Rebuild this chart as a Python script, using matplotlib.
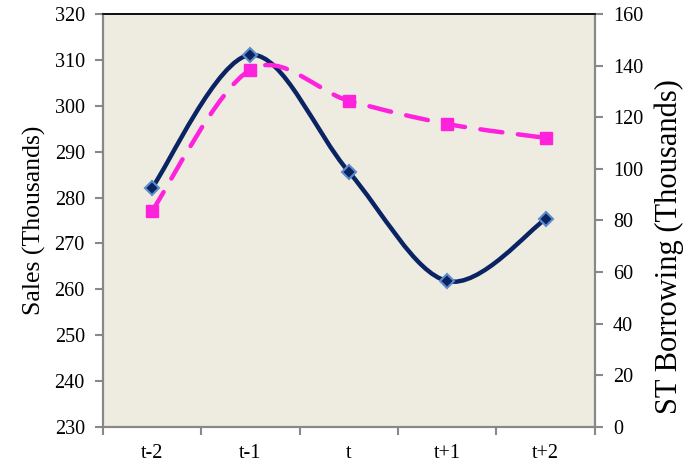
import numpy as np
import matplotlib.pyplot as plt
from matplotlib.path import Path
from matplotlib.patches import PathPatch

# ============================================================
# Data
# ============================================================

PERIODS = ["t-2", "t-1", "t", "t+1", "t+2"]
SALES = [282.1, 311.1, 285.6, 261.8, 275.3]
ST_BORROWING = [83.7, 138.4, 126.4, 117.4, 112.0]

NAVY = "#0A2463"
MAGENTA = "#FF22DD"
PLOT_BG = "#EEEBE0"

plt.rcParams["font.family"] = ["Liberation Serif", "DejaVu Serif"]


def smooth_path(x, y):
    # excel-like smoothed line: cubic bezier through each point
    pts = np.column_stack([x, y]).astype(float)
    n = len(pts)
    verts = [pts[0]]
    codes = [Path.MOVETO]
    for i in range(n - 1):
        p0 = pts[i - 1] if i > 0 else pts[i]
        p1 = pts[i]
        p2 = pts[i + 1]
        p3 = pts[i + 2] if i + 2 < n else pts[i + 1]
        c1 = p1 + (p2 - p0) / 6.0
        c2 = p2 - (p3 - p1) / 6.0
        verts += [c1, c2, p2]
        codes += [Path.CURVE4] * 3
    return Path(verts, codes)


# ============================================================
# Plot
# ============================================================

fig = plt.figure(figsize=(6.9, 4.67), dpi=100)
ax = fig.add_axes([0.149, 0.0857, 0.713, 0.8843])
ax2 = ax.twinx()

ax.set_facecolor(PLOT_BG)
ax.set_zorder(ax2.get_zorder() - 1)
ax2.patch.set_visible(False)

xs = np.arange(len(PERIODS))

# sales (left axis)
ax.add_patch(PathPatch(smooth_path(xs, SALES), facecolor="none",
                       edgecolor=NAVY, lw=3.2, capstyle="round", zorder=3))
ax.plot(xs, SALES, ls="none", marker="D", ms=7, mfc=NAVY,
        mec="#5B8CC8", mew=1.5, zorder=4)

# short-term borrowing (right axis)
ax2.add_patch(PathPatch(smooth_path(xs, ST_BORROWING), facecolor="none",
                        edgecolor=MAGENTA, lw=3.2, ls=(0, (5, 3.5)),
                        capstyle="round", zorder=3))
ax2.plot(xs, ST_BORROWING, ls="none", marker="s", ms=8.5, mfc=MAGENTA,
         mec=MAGENTA, zorder=4)

ax.set_xlim(-0.5, len(PERIODS) - 0.5)
ax.set_ylim(230, 320)
ax.set_yticks(np.arange(230, 321, 10))
ax2.set_ylim(0, 160)
ax2.set_yticks(np.arange(0, 161, 20))

ax.set_xticks(np.arange(-0.5, len(PERIODS), 1.0))
ax.set_xticklabels([])
ax.set_xticks(xs, minor=True)
ax.set_xticklabels(PERIODS, minor=True)
ax.tick_params(axis="x", which="minor", length=0, pad=12, labelsize=14.5)
ax.tick_params(axis="x", which="major", length=6, width=1.5, color="#888888")
ax.tick_params(axis="y", length=6, width=1.5, color="#888888",
               labelsize=14.5, pad=7)
ax2.tick_params(axis="y", length=6, width=1.5, color="#888888",
                labelsize=14.5, pad=7)

ax.set_ylabel("Sales (Thousands)", fontsize=18.5, labelpad=6)
ax2.set_ylabel("ST Borrowing (Thousands)", fontsize=22, labelpad=8)
ax2.yaxis.label.set_y(0.436)

for a in (ax, ax2):
    for side in ("left", "right", "bottom"):
        a.spines[side].set_color("#888888")
        a.spines[side].set_linewidth(1.5)
    a.spines["top"].set_color("#111111")
    a.spines["top"].set_linewidth(1.3)

fig.savefig("out.png", dpi=100)
